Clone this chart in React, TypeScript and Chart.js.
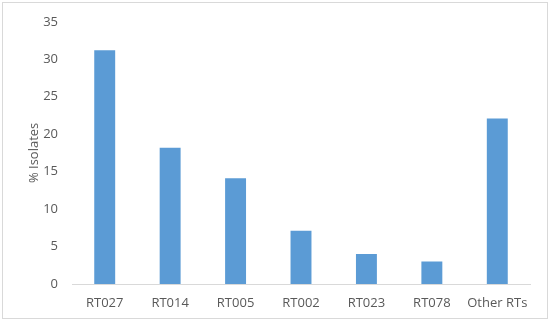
import React, { useEffect, useRef } from "react";
import { Chart, registerables } from "chart.js";

Chart.register(...registerables);

const categories = ["RT027", "RT014", "RT005", "RT002", "RT023", "RT078", "Other RTs"];
const isolates = [31.2, 18.2, 14.1, 7.1, 4.0, 3.0, 22.1];
const yTicks = [0, 5, 10, 15, 20, 25, 30, 35];

export default function App() {
  const ref = useRef<HTMLCanvasElement | null>(null);

  useEffect(() => {
    document.body.style.margin = "0";
    const ctx = ref.current!;
    const font = { family: "'Open Sans', sans-serif", size: 13 };
    const chart = new Chart(ctx, {
      type: "bar",
      data: {
        labels: categories,
        datasets: [
          {
            data: isolates,
            backgroundColor: "#5B9BD5",
            borderWidth: 0,
            categoryPercentage: 1,
            barPercentage: 0.32,
          },
        ],
      },
      options: {
        animation: false,
        responsive: false,
        maintainAspectRatio: false,
        layout: { padding: { left: 0, right: 20, top: 11, bottom: 0 } },
        plugins: { legend: { display: false }, tooltip: { enabled: false } },
        scales: {
          x: {
            grid: { display: false, drawTicks: false },
            border: { display: true, color: "#D9D9D9", width: 1 },
            ticks: { color: "#595959", font, padding: 11, maxRotation: 0, autoSkip: false },
            afterFit: (s: any) => {
              s.height = 38;
            },
          },
          y: {
            min: 0,
            max: 35,
            afterBuildTicks: (s: any) => {
              s.ticks = yTicks.map((v) => ({ value: v }));
            },
            grid: { display: false, drawTicks: false },
            border: { display: false },
            ticks: { color: "#595959", font, padding: 14 },
            title: {
              display: true,
              text: "% Isolates",
              color: "#595959",
              font,
              padding: { top: 26, bottom: 0 },
            },
            afterFit: (s: any) => {
              s.width = 72;
            },
          },
        },
      },
    });
    return () => chart.destroy();
  }, []);

  return (
    <div style={{ position: "absolute", left: 0, top: 0, width: 550, height: 322, background: "#fff" }}>
      <canvas ref={ref} width={550} height={322} style={{ display: "block" }} />
      <div
        style={{
          position: "absolute",
          left: 2,
          top: 2,
          width: 544,
          height: 315,
          border: "1px solid #D9D9D9",
          pointerEvents: "none",
        }}
      />
    </div>
  );
}
